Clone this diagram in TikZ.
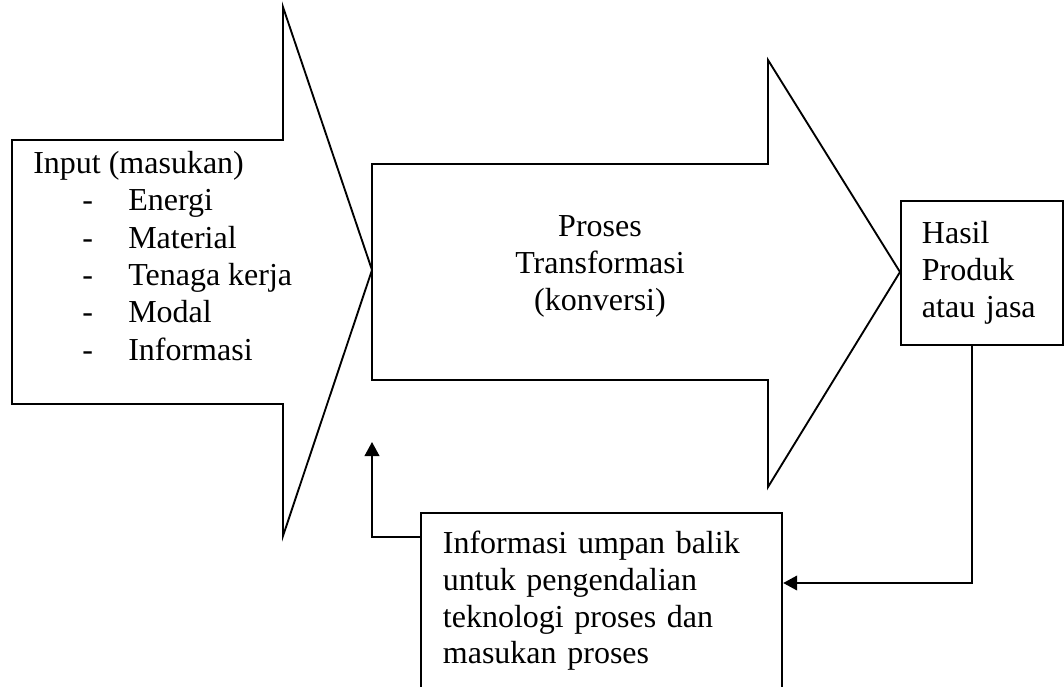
\documentclass[tikz,border=0pt]{standalone}
\usepackage{fontspec}
\setmainfont{Liberation Serif}
\usetikzlibrary{positioning, arrows.meta, calc}

\begin{document}
\begin{tikzpicture}[
  x=0.75pt, y=-0.75pt,
  font=\fontsize{24}{27.5}\selectfont,
  bigarrow/.style={draw=black, line width=1.4pt, line join=miter},
  box/.style={draw=black, line width=1.4pt, anchor=north west, align=left},
  txt/.style={anchor=base west, inner sep=0pt},
  fb/.style={line width=1.4pt, -{Triangle[length=10.5pt, width=11pt]}}
]
\fill[white, use as bounding box] (0,0) rectangle (1064,686);
\clip (0,0) rectangle (1064,686);
% input and transformation arrows
\draw[bigarrow] (12,140) -- (283,140) -- (283,7) -- (372,270) -- (283,536) -- (283,404) -- (12,404) -- cycle;
\draw[bigarrow] (372,164) -- (768,164) -- (768,60) -- (900,272) -- (768,487) -- (768,380) -- (372,380) -- cycle;
\node[txt] (input) at (33,173) {Input (masukan)};
\node[txt] (d1) at (82,210) {-};
\node[txt] (d2) at (82,248) {-};
\node[txt] (d3) at (82,285) {-};
\node[txt] (d4) at (82,322) {-};
\node[txt] (d5) at (82,360) {-};
\node[txt] (energi) at (128,210) {Energi};
\node[txt] (material) at (128,248) {Material};
\node[txt] (tenaga) at (128,285) {Tenaga kerja};
\node[txt] (modal) at (128,322) {Modal};
\node[txt] (info) at (128,360) {Informasi};
\node[align=center, anchor=base, inner sep=0pt] (proses) at (600,310) {Proses\\Transformasi\\(konversi)};
% output and feedback
\node[box, inner xsep=15.75pt, text width=90pt, minimum height=108pt] (hasil) at (900,200) {Hasil\\Produk\\atau jasa};
\node[box, inner xsep=16.5pt, text width=238pt, minimum height=132pt] (feedback) at (420,512)
  {Informasi umpan balik\\untuk pengendalian\\teknologi proses dan\\masukan proses};
\coordinate (hdrop) at ($(hasil.south west)+(72,0)$);
\coordinate (fbend) at (372,442);
\draw[fb] (hdrop) |- ([yshift=-53.25pt]feedback.north east);
\draw[fb] ([yshift=-18.75pt]feedback.north west) -| (fbend);
\end{tikzpicture}
\end{document}
